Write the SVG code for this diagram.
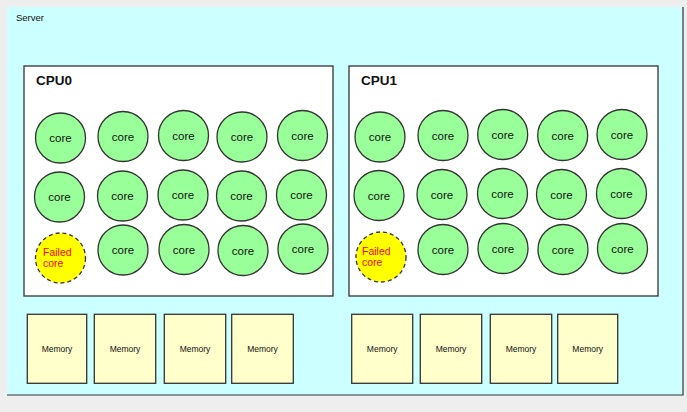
<svg xmlns="http://www.w3.org/2000/svg" width="687" height="412" viewBox="0 0 687 412">
<style>
text{font-family:"Liberation Sans",Arial,sans-serif;fill:#111}
.cpu{fill:#fff;stroke:#333;stroke-width:1.3}
.core{fill:#99ff99;stroke:#333;stroke-width:1.3}
.failed{fill:#ffff00;stroke:#333;stroke-width:1.3;stroke-dasharray:4 3}
.ct{font-size:11.5px;text-anchor:middle}
.ft{font-size:10.5px;fill:#ff0000}
.mem{fill:#ffffcc;stroke:#333;stroke-width:1.3}
.mt{font-size:8.5px;text-anchor:middle}
.cl{font-size:13.5px;font-weight:bold}
</style>
<rect x="0" y="0" width="687" height="412" fill="#eeeeee"/>
<g id="server">
<rect x="7" y="7" width="676" height="388" fill="#ccffff"/>
<path d="M683 7 V395 H7" fill="none" stroke="#333" stroke-width="1.2"/>
<text x="16" y="21" style="font-size:9.5px">Server</text>
</g>
<g id="cpu0">
<rect class="cpu" x="24" y="66" width="309" height="230"/>
<text class="cl" x="36" y="85">CPU0</text>
</g>
<g id="cpu1">
<rect class="cpu" x="349" y="66" width="309" height="230"/>
<text class="cl" x="361" y="85">CPU1</text>
</g>
<g id="cpu0-cores">
<g id="c0-1-1"><circle class="core" cx="60.5" cy="138" r="25"/><text class="ct" x="60.5" y="142">core</text></g>
<g id="c0-1-2"><circle class="core" cx="123" cy="136.5" r="25"/><text class="ct" x="123" y="140.5">core</text></g>
<g id="c0-1-3"><circle class="core" cx="183.5" cy="135.5" r="25"/><text class="ct" x="183.5" y="139.5">core</text></g>
<g id="c0-1-4"><circle class="core" cx="242" cy="137" r="25"/><text class="ct" x="242" y="141">core</text></g>
<g id="c0-1-5"><circle class="core" cx="302.5" cy="135.5" r="25"/><text class="ct" x="302.5" y="139.5">core</text></g>
<g id="c0-2-1"><circle class="core" cx="59.5" cy="197" r="25"/><text class="ct" x="59.5" y="201">core</text></g>
<g id="c0-2-2"><circle class="core" cx="122.5" cy="196" r="25"/><text class="ct" x="122.5" y="200">core</text></g>
<g id="c0-2-3"><circle class="core" cx="183" cy="195" r="25"/><text class="ct" x="183" y="199">core</text></g>
<g id="c0-2-4"><circle class="core" cx="241.5" cy="196" r="25"/><text class="ct" x="241.5" y="200">core</text></g>
<g id="c0-2-5"><circle class="core" cx="301.5" cy="195" r="25"/><text class="ct" x="301.5" y="199">core</text></g>
<g id="c0-failed"><circle class="failed" cx="60.5" cy="258" r="25"/><text class="ft" x="43" y="256">Failed</text><text class="ft" x="43" y="267">core</text></g>
<g id="c0-3-2"><circle class="core" cx="123" cy="250" r="25"/><text class="ct" x="123" y="254">core</text></g>
<g id="c0-3-3"><circle class="core" cx="184" cy="249.5" r="25"/><text class="ct" x="184" y="253.5">core</text></g>
<g id="c0-3-4"><circle class="core" cx="243" cy="250.5" r="25"/><text class="ct" x="243" y="254.5">core</text></g>
<g id="c0-3-5"><circle class="core" cx="303" cy="249" r="25"/><text class="ct" x="303" y="253">core</text></g>
</g>
<g id="cpu1-cores">
<g id="c1-1-1"><circle class="core" cx="380" cy="137" r="25"/><text class="ct" x="380" y="141">core</text></g>
<g id="c1-1-2"><circle class="core" cx="443" cy="135.5" r="25"/><text class="ct" x="443" y="139.5">core</text></g>
<g id="c1-1-3"><circle class="core" cx="502.7" cy="134.5" r="25"/><text class="ct" x="502.7" y="138.5">core</text></g>
<g id="c1-1-4"><circle class="core" cx="562.7" cy="135.5" r="25"/><text class="ct" x="562.7" y="139.5">core</text></g>
<g id="c1-1-5"><circle class="core" cx="622" cy="134.5" r="25"/><text class="ct" x="622" y="138.5">core</text></g>
<g id="c1-2-1"><circle class="core" cx="379" cy="195.5" r="25"/><text class="ct" x="379" y="199.5">core</text></g>
<g id="c1-2-2"><circle class="core" cx="442" cy="194.5" r="25"/><text class="ct" x="442" y="198.5">core</text></g>
<g id="c1-2-3"><circle class="core" cx="502.5" cy="193.5" r="25"/><text class="ct" x="502.5" y="197.5">core</text></g>
<g id="c1-2-4"><circle class="core" cx="561.5" cy="194.5" r="25"/><text class="ct" x="561.5" y="198.5">core</text></g>
<g id="c1-2-5"><circle class="core" cx="621.5" cy="193.5" r="25"/><text class="ct" x="621.5" y="197.5">core</text></g>
<g id="c1-failed"><circle class="failed" cx="381" cy="257" r="25"/><text class="ft" x="362" y="255">Failed</text><text class="ft" x="362" y="266">core</text></g>
<g id="c1-3-2"><circle class="core" cx="443" cy="249.5" r="25"/><text class="ct" x="443" y="253.5">core</text></g>
<g id="c1-3-3"><circle class="core" cx="503" cy="248.5" r="25"/><text class="ct" x="503" y="252.5">core</text></g>
<g id="c1-3-4"><circle class="core" cx="563" cy="249.5" r="25"/><text class="ct" x="563" y="253.5">core</text></g>
<g id="c1-3-5"><circle class="core" cx="622.5" cy="248.5" r="25"/><text class="ct" x="622.5" y="252.5">core</text></g>
</g>
<g id="memory0">
<g id="m0-1"><rect class="mem" x="27.3" y="314.3" width="59.4" height="69"/><text class="mt" x="57" y="351.5">Memory</text></g>
<g id="m0-2"><rect class="mem" x="94.3" y="314.3" width="61.4" height="69"/><text class="mt" x="125" y="351.5">Memory</text></g>
<g id="m0-3"><rect class="mem" x="164.3" y="314.3" width="61.4" height="69"/><text class="mt" x="195" y="351.5">Memory</text></g>
<g id="m0-4"><rect class="mem" x="231.7" y="314.3" width="61.6" height="69"/><text class="mt" x="262.5" y="351.5">Memory</text></g>
</g>
<g id="memory1">
<g id="m1-1"><rect class="mem" x="351.7" y="314.3" width="61" height="69"/><text class="mt" x="382.2" y="351.5">Memory</text></g>
<g id="m1-2"><rect class="mem" x="420.3" y="314.3" width="61.4" height="69"/><text class="mt" x="451" y="351.5">Memory</text></g>
<g id="m1-3"><rect class="mem" x="490.3" y="314.3" width="61.4" height="69"/><text class="mt" x="521" y="351.5">Memory</text></g>
<g id="m1-4"><rect class="mem" x="557.7" y="314.3" width="60" height="69"/><text class="mt" x="587.7" y="351.5">Memory</text></g>
</g>
<g id="connectors"></g>
</svg>
